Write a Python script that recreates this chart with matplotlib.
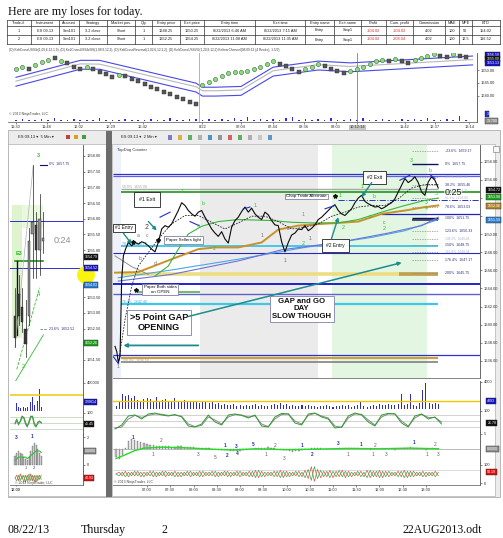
import numpy as np
import matplotlib
matplotlib.use("Agg")
import matplotlib.pyplot as plt
from matplotlib.patches import Rectangle, Circle
import matplotlib.transforms as mtrans

# ============================ DATA ============================
title = "Here are my loses for today."
table_cols = ["Trade-#", "Instrument", "Account", "Strategy", "Market pos.", "Qty",
              "Entry price", "Exit price", "Entry time", "Exit time", "Entry name",
              "Exit name", "Profit", "Cum. profit", "Commission", "MAE", "MFE", "ETD"]
trade1 = ["1", "ES 09-13", "Sim101", "3.2 close", "Short", "1", "1648.25", "1650.25",
          "8/22/2013 6:46 AM", "8/22/2013 7:15 AM", "Entry", "Stop1", "-104.02", "-104.02",
          "4.02", "100", "50", "154.02"]
trade2 = ["2", "ES 09-13", "Sim101", "3.2 close", "Short", "1", "1652.25", "1654.25",
          "8/22/2013 11:08 AM", "8/22/2013 11:35 AM", "Entry", "Stop1", "-104.02", "-208.04",
          "4.02", "100", "12.5", "116.52"]
indicator_text = ("(D) KeltCrossUSS/b(1,09,6,12,1,9), (D) KeltCrossUSS/b/SS(1,08,9,12,2), "
                  "(D) KeltCrossReversal(1,02,6,12,2,2), (D) KeltCrossUSSVU(1,20,8,12,2) "
                  "KeltnerChannel(08:09:13 (4 Renko), 1.5/2)")
footer = ["08/22/13", "Thursday", "2", "22AUG2013.odt"]

# --- top (Renko / Keltner) chart ---
dots_session1 = [1650.53, 1651.47, 1650.67, 1651.87, 1653.33, 1653.87, 1654.67, 1653.6, 1652.67, 1651.2,
                 1650.53, 1651.47, 1650.53, 1649.33, 1648.53, 1647.47, 1648.27, 1647.6, 1646.53, 1645.73,
                 1644.67, 1643.33, 1642.53, 1641.6, 1640.53, 1639.47, 1638.67, 1637.33, 1636.53]
dots_session2 = [1644.13, 1645.47, 1646.67, 1647.73, 1648.8, 1649.47, 1649.2, 1649.73, 1650.4, 1651.47,
                 1652.4, 1653.73, 1652.4, 1651.6, 1650.67, 1649.33, 1650.4, 1651.47, 1652.27, 1651.6,
                 1650.53, 1649.6, 1648.93, 1649.6, 1650.53, 1651.33, 1652.4, 1653.6, 1654.13, 1653.6,
                 1654.53, 1653.6, 1652.8, 1653.87, 1654.8, 1655.47, 1656.27, 1655.73, 1655.33, 1656.27,
                 1655.6, 1655.07]
dot_kind = ("ggsgggsgsssgssssgssssssssssss" +
            "gggggggggggg" "ssss" "ggg" "ssss" "gggggg" "s" "g" "ss" "gggg" "ss" "g" "ss")
channel_idx = [0, 10, 13, 28, 29, 31, 35, 40, 47, 52, 57, 71]
channel_up = [1647.2, 1653.9, 1653.9, 1644.9, 1643.3, 1643.3, 1643.6, 1651.2, 1653.6, 1652.9, 1653.6, 1655.6]
channel_mid = [1645.7, 1652.5, 1652.4, 1643.5, 1641.9, 1641.9, 1642.2, 1649.8, 1652.2, 1651.5, 1652.2, 1654.2]
channel_lo = [1643.7, 1650.4, 1650.4, 1641.4, 1639.8, 1639.8, 1640.1, 1647.7, 1650.1, 1649.4, 1650.1, 1652.1]
top_volume = [1, 2, 1, 1, 2, 1, 3, 1, 1, 2, 1, 1, 1, 3, 1, 1, 1, 2, 1, 1, 1, 2, 1, 1, 3, 1, 1, 2, 2, 1,
              2, 1, 2, 1, 3, 1, 5, 1, 2, 1, 2, 1, 3, 4, 1, 2, 1, 2, 1, 3, 1, 1, 2, 1, 3, 1, 1, 2, 1, 1,
              2, 1, 2, 1, 3, 1, 1, 2, 1, 6, 1]
top_tick_pos = [0, 4.8, 9.8, 14.7, 19.7, 29, 35, 40, 44.8, 49.8, 53.1, 60.5, 65.2, 70.5]
top_tick_lab = ["11:30", "11:48", "12:02", "12:29", "12:42", "8/22", "07:04", "07:44", "08:36",
                "09:03", "10:12:14", "11:42", "12:37", "13:14"]

# --- left 5-min chart ---
l_open = [1652.9, 1653.6, 1653.2, 1652.5, 1652.9, 1655.5, 1655.8, 1655.0, 1655.3]
l_high = [1653.8, 1654.2, 1653.8, 1653.4, 1655.7, 1657.7, 1656.2, 1656.8, 1656.2]
l_low = [1651.9, 1652.6, 1652.4, 1651.6, 1652.6, 1654.1, 1654.1, 1654.2, 1654.9]
l_close = [1652.2, 1652.9, 1652.7, 1652.0, 1655.3, 1655.9, 1655.0, 1656.0, 1655.4]
l_vol = [5, 8, 4, 3, 5, 4, 3, 4, 12, 9, 14, 6, 18, 10, 22, 4]
l_stoch_a = [50, 70, 40, 60, 85, 75, 45, 30, 60, 85, 80, 40, 30, 55, 60, 50]
l_stoch_b = [45, 60, 50, 55, 75, 80, 55, 35, 50, 78, 85, 50, 35, 45, 58, 52]
l_macd = [6, 8, 9, 8, 7, 5, 4, 3, 5, 9, 12, 14, 13, 10, 8, 6]
l_macd_sig = [3, 4, 5, 5, 5, 5, 5, 4, 5, 6, 7, 8, 9, 9, 9, 8]
l_osc_r = [0, 2, -2, 3, -1, 2, -3, 2, -2, 3, -2, 2, -3, 2, -1, 2]
l_osc_g = [0, -2, 2, -2, 2, -3, 2, -2, 3, -2, 2, -3, 2, -2, 2, -1]

# --- main 2-min chart (times in minutes after midnight) ---
open_t = [378.7, 381.0, 383.0, 385.2, 387.3, 389.5, 392.5]
open_p = [1637.6, 1637.0, 1635.8, 1636.5, 1645.0, 1647.6, 1648.4]
price_start, price_step = 395.9, 4.3
price = [1649.08, 1648.71, 1649.08, 1648.90, 1649.16, 1649.01, 1648.71, 1648.34, 1648.04, 1649.08,
         1650.57, 1650.94, 1650.76, 1651.13, 1651.87, 1652.61, 1653.47, 1653.17, 1652.61, 1652.24,
         1651.98, 1652.43, 1652.61, 1651.87, 1651.24, 1650.57, 1650.12, 1649.75, 1650.27, 1649.46,
         1649.01, 1650.76, 1651.50, 1651.87, 1652.50, 1652.99, 1652.43, 1652.87, 1652.24, 1651.87,
         1651.61, 1652.43, 1652.13, 1651.50, 1651.02, 1650.94, 1649.16, 1648.04, 1649.08, 1649.90,
         1650.12, 1650.57, 1650.50, 1650.94, 1650.38, 1650.64, 1651.02, 1651.61, 1651.87, 1652.24,
         1652.61, 1652.99, 1653.25, 1652.61, 1652.24, 1652.06, 1652.43, 1652.80, 1653.47, 1653.99,
         1654.29, 1653.62, 1653.36, 1653.17, 1652.99, 1653.06, 1652.80, 1652.99, 1653.25, 1653.47,
         1653.91, 1654.66, 1655.40, 1656.14, 1655.70, 1655.96, 1656.33, 1655.70, 1654.66, 1654.29,
         1655.77, 1656.33, 1655.96, 1655.10]
slow_t = [383.0, 391.6, 400.2, 408.8, 421.7, 434.6, 451.8, 469.0, 486.2, 503.4, 520.6, 537.8, 555.0,
          572.2, 589.4, 606.7, 623.9, 641.1, 658.3, 675.5, 692.7, 709.9, 727.1, 744.3, 761.5, 778.7, 795.9]
slow_p = [1635.71, 1640.54, 1644.25, 1646.48, 1647.97, 1649.46, 1651.13, 1652.06, 1652.06, 1651.31,
          1650.57, 1651.24, 1651.98, 1651.98, 1651.39, 1650.57, 1650.76, 1651.13, 1651.98, 1652.43,
          1652.99, 1653.17, 1653.17, 1653.91, 1655.10, 1655.48, 1655.48]
gold_t = [378.7, 408.8, 451.8, 486.2, 507.7, 537.8, 567.9, 589.4, 615.3, 645.4, 666.9, 692.7, 722.8, 752.9, 778.7, 795.9]
gold_p = [1645.74, 1645.81, 1647.23, 1648.34, 1648.53, 1648.53, 1649.08, 1650.50, 1650.94, 1651.13,
          1651.24, 1651.39, 1652.24, 1652.61, 1652.99, 1653.17]
green_t = [430.3, 447.5, 460.4, 473.3, 490.5, 512.0, 537.8, 580.9, 606.7, 632.5, 666.9, 692.7, 722.8, 752.9, 778.7, 795.9]
green_p = [1645.37, 1646.48, 1648.34, 1650.01, 1650.87, 1651.39, 1651.61, 1651.50, 1651.31, 1651.24,
           1651.24, 1651.61, 1652.43, 1653.17, 1653.73, 1653.99]
lblue_t = [383.0, 451.8, 537.8, 623.9, 709.9, 752.9, 795.9]
lblue_p = [1645.18, 1646.04, 1647.23, 1648.53, 1649.64, 1650.38, 1651.61]
purple_t = [383.0, 451.8, 537.8, 593.8, 666.9, 731.4, 774.4, 795.9]
purple_p = [1644.81, 1645.55, 1647.04, 1648.27, 1649.08, 1650.12, 1650.94, 1651.87]
grayma_t = [378.7, 400.2, 421.7]
grayma_p = [1647.6, 1646.41, 1645.55]

fib_pct = ["-23.6%", "0%", "23.6%", "38.2%", "50.0%", "61.8%", "78.6%", "100%",
           "123.6%", "138.2%", "150%", "161.8%", "176.4%", "200%"]
fib_val = [1659.17, 1657.75, 1656.33, 1655.46, 1654.75, 1654.04, 1653.03, 1651.75,
           1650.33, 1649.46, 1648.75, 1648.04, 1647.17, 1645.75]
fib_faded = [False, False, True, False, True, True, False, False, False, True, False, True, False, False]

# main sub-panels (4-minute bars from 06:20)
sub_start = 380
vol_main = [3, 8, 16, 14, 15, 12, 14, 10, 9, 11,
            12, 11, 8, 13, 9, 10, 11, 9, 8, 12,
            9, 8, 10, 7, 9, 7, 8, 6, 7, 9,
            6, 8, 5, 6, 4, 5, 4, 4, 5, 3,
            4, 3, 4, 3, 4, 5, 3, 4, 3, 3,
            4, 5, 4, 6, 4, 5, 3, 4, 3, 3,
            4, 3, 4, 3, 3, 2, 3, 3, 4, 3,
            2, 3, 3, 4, 3, 4, 2, 3, 4, 9,
            3, 2, 3, 4, 3, 5, 4, 4, 5, 4,
            4, 5, 16, 4, 5, 16, 4, 3, 6, 20,
            28, 6, 5, 6, 5]
macd_hist = [-25, -30, -20, 5, 25, 33, 30, 26, 22, 18,
             15, 13, 12, 11, 10, 10, 9, 9, 8, 8,
             9, 10, 8, 7, 6, 6, 5, 5, 4, 3,
             2, 1, 0, -1, -2, -3, -4, -5, -6, -7,
             -6, -4, -3, -1, 1, 2, 3, 4, 5, 6,
             5, 3, 1, -1, -2, -4, -6, -8, -7, -5,
             -3, -1, 1, 2, 3, 3, 2, 1, 0, -1,
             0, 1, 2, 3, 4, 5, 4, 3, 2, 1,
             0, -1, -2, -1, 0, 1, 2, 1, 0, -1,
             -2, -1, 1, 3, 5, 6, 5, 3, 1, -1,
             -2, 0, 2, 1, 0]
macd_sig_t = [380, 392, 404, 416, 440, 470, 500, 530, 560, 600, 640, 680, 720, 760, 796]
macd_sig_v = [-30, -18, -5, 3, 6, 4, 0, -3, 1, -2, 0, 2, 1, 3, 1]
osc_red = [0, 2, -2, 3, -3, 2, -2, 3, -3, 2, -2, 3, -3, 2, -2, 3, -3, 2, -2, 3,
           -3, 2, -2, 3, -3, 2, -2, 3, -3, 2, -2, 3, -3, 2, -2, 3, -3, 2, -2, 3,
           -3, 2, -2, 3, -3, 4, -4, 3, -3, 2, -2, 3, -3, 4, -4, 3, -3, 2, -2, 3,
           -3, 4, -5, 8, -8, 5, -4, 3, -3, 4, -4, 3, -3, 4, -4, 3, -3, 2, -2, 3,
           -3, 4, -4, 3, -3, 4, -4, 3, -3, 2, -2, 3, -3, 4, -4, 3, -3, 2, -2, 3,
           -3, 2, -2, 3, -2]
osc_green = [0, -2, 2, -3, 2, -2, 3, -2, 2, -3, 2, -2, 3, -3, 2, -2, 3, -2, 2, -3,
             2, -3, 2, -2, 3, -2, 2, -3, 3, -2, 2, -2, 3, -3, 2, -2, 3, -3, 2, -2,
             3, -2, 2, -3, 3, -4, 4, -3, 2, -2, 2, -3, 3, -4, 3, -3, 2, -2, 3, -3,
             2, -4, 5, -7, 8, -5, 4, -3, 3, -4, 3, -3, 4, -3, 3, -3, 2, -2, 3, -3,
             2, -4, 4, -3, 3, -4, 3, -3, 3, -2, 2, -3, 3, -4, 3, -3, 3, -2, 2, -3,
             2, -2, 2, -3, 2]
stoch_t0, stoch_step = 378.7, 8.6
stoch_a = [10, 30, 75, 80, 60, 85, 90, 80, 75, 82, 70, 25, 20, 35, 80, 45, 30, 80, 85, 78,
           65, 80, 25, 20, 70, 88, 85, 40, 30, 85, 90, 70, 60, 15, 20, 75, 90, 80, 45, 25,
           80, 88, 85, 40, 20, 75, 85, 60, 70, 35]
stoch_b = [15, 20, 60, 78, 68, 78, 85, 84, 78, 80, 74, 35, 22, 28, 70, 55, 35, 70, 82, 80,
           70, 76, 35, 22, 60, 82, 86, 50, 35, 78, 88, 75, 65, 25, 18, 65, 85, 84, 55, 30,
           70, 85, 86, 50, 25, 65, 84, 68, 68, 45]
main_ticks = [420, 450, 480, 510, 540, 570, 600, 630, 660, 690, 720, 750, 780]
main_tick_lab = ["07:00", "07:30", "08:00", "08:30", "09:00", "09:30", "10:00", "10:30",
                 "11:00", "11:30", "12:00", "12:30", "13:00"]

# ============================ FIGURE ============================
plt.rcParams['font.family'] = ['Liberation Sans', 'DejaVu Sans']
W, H = 503, 538
fig = plt.figure(figsize=(W / 100, H / 100), dpi=100)
fig.patch.set_facecolor('white')


def rect(x0, y0, x1, y1):
    return [x0 / W, 1 - y1 / H, (x1 - x0) / W, (y1 - y0) / H]


bg = fig.add_axes([0, 0, 1, 1])
bg.set_xlim(0, W); bg.set_ylim(H, 0); bg.axis('off')

SERIF = ['Liberation Serif', 'DejaVu Serif']
bg.text(8, 12.5, title, family=SERIF, fontsize=8.6, va='center', ha='left', color='#101010')

col_edges = [7, 31, 59, 79, 107, 135, 152, 180, 204, 255, 305, 334, 361, 386, 413, 445, 459, 472, 500]
row_edges = [19.5, 26, 35, 44]
for x in col_edges:
    bg.plot([x, x], [row_edges[0], row_edges[-1]], color='#303030', lw=0.5)
for y in row_edges:
    bg.plot([col_edges[0], col_edges[-1]], [y, y], color='#303030', lw=0.5)
for r, row in enumerate([table_cols, trade1, trade2]):
    yc = (row_edges[r] + row_edges[r + 1]) / 2
    for c, val in enumerate(row):
        xc = (col_edges[c] + col_edges[c + 1]) / 2
        colr = '#e02020' if (r > 0 and c in (12, 13)) else '#202020'
        bg.text(xc, yc, val, fontsize=2.8, ha='center', va='center', color=colr)
bg.text(9, 50.5, indicator_text, fontsize=2.3, ha='left', va='center', color='#404040')

# screenshot frame
bg.add_patch(Rectangle((8, 130), 492, 367, fc='#ececec', ec='#a0a0a0', lw=0.5))
bg.add_patch(Rectangle((8, 144), 98, 352, fc='white', ec='#a0a0a0', lw=0.4))
bg.add_patch(Rectangle((112, 144), 383, 352, fc='white', ec='#a0a0a0', lw=0.4))
bg.add_patch(Rectangle((106, 131), 6, 366, fc='#6c6c6c', ec='none'))
bg.add_patch(Rectangle((493, 146), 6, 6, fc='#f8f8f8', ec='#707070', lw=0.4))
bg.text(18, 137.5, "ES 09-13 \u25be  5 Min \u25be", fontsize=3, va='center', color='#202020')
bg.text(121, 137.5, "ES 09-13 \u25be  2 Min \u25be", fontsize=3, va='center', color='#202020')
for k, cc in enumerate(['#c04040', '#d8a020', '#40a040']):
    bg.add_patch(Rectangle((66 + 8 * k, 135), 4, 4, fc=cc, ec='none'))
for k, cc in enumerate(['#6060c0', '#d8a020', '#40a040', '#a0a0a0', '#2080c0', '#808080',
                        '#d04040', '#40a040', '#a0a0a0', '#c0c0c0', '#4080c0']):
    bg.add_patch(Rectangle((168 + 10 * k, 135), 4.5, 4.5, fc=cc, ec='none', alpha=0.8))


def style(ax):
    for s in ['top', 'left', 'bottom']:
        ax.spines[s].set_visible(False)
    ax.spines['right'].set_color('#505050'); ax.spines['right'].set_linewidth(0.6)
    ax.yaxis.tick_right()
    ax.tick_params(axis='y', labelsize=2.9, length=1.5, width=0.4, pad=1, colors='#303030')
    ax.tick_params(axis='x', bottom=False, labelbottom=False)
    ax.set_facecolor('white')


def sep(ax):
    ax.spines['bottom'].set_visible(True)
    ax.spines['bottom'].set_color('#707070'); ax.spines['bottom'].set_linewidth(0.6)


def tag(ax, y, text, fc, tc='white', host=None):
    tr = mtrans.blended_transform_factory(ax.transAxes, ax.transData)
    (host or ax).text(1.02, y, text, transform=tr, fontsize=2.6, color=tc, va='center', ha='left',
                      bbox=dict(boxstyle='square,pad=0.25', fc=fc, ec='#202020', lw=0.3),
                      clip_on=False, zorder=10)


# ---------------- top chart ----------------
axT = fig.add_axes(rect(8, 53, 477, 109))
axT.set_xlim(-1.24, 71.7); axT.set_ylim(1634.7, 1656.8)
style(axT); sep(axT)
axT.set_yticks([1640, 1645, 1650]); axT.set_yticklabels(['1640.00', '1645.00', '1650.00'])
axT.plot(channel_idx, channel_up, color='#4848e8', lw=0.8)
axT.plot(channel_idx, channel_mid, color='#b8b8b8', lw=0.8)
axT.plot(channel_idx, channel_lo, color='#4848e8', lw=0.8)
dots = dots_session1 + dots_session2
for i, (v, k) in enumerate(zip(dots, dot_kind)):
    if k == 'g':
        axT.plot(i, v, marker='o', ms=3.0, mfc='#8ede7e', mec='#3a6a3a', mew=0.4, zorder=5)
    else:
        axT.plot(i, v, marker='s', ms=2.4, mfc='#555555', mec='#333333', mew=0.3, zorder=5)
axT.axvline(28.4, color='#a8a8a8', lw=0.6)
axT.axvline(53.1, color='#808080', lw=0.6)
tag(axT, 1655.9, '1656.58', '#1414c0')
tag(axT, 1654.3, '1655.00', '#101010')
tag(axT, 1652.7, '1653.13', '#1414c0')

axTv = fig.add_axes(rect(8, 109, 477, 122))
axTv.set_xlim(-1.24, 71.7); axTv.set_ylim(-1.5, 14)
style(axTv); sep(axTv)
axTv.set_yticks([])
axTv.bar(range(len(top_volume)), top_volume, width=0.25, color='#2b2be0')
axTv.axvline(28.4, color='#a8a8a8', lw=0.6)
axTv.axvline(53.1, color='#808080', lw=0.6)
axTv.text(0.003, 0.55, "\u00a9 2013 NinjaTrader, LLC", transform=axTv.transAxes, fontsize=2.5, color='#404040')
axTv.set_xticks(top_tick_pos)
axTv.set_xticklabels(top_tick_lab)
axTv.tick_params(axis='x', bottom=True, labelbottom=True, labelsize=2.9, length=1.5, width=0.4,
                 pad=1, colors='#303030')
for lab in axTv.get_xticklabels():
    if lab.get_text() == "10:12:14":
        lab.set_bbox(dict(boxstyle='square,pad=0.15', fc='#c8c8c8', ec='none'))
tag(axTv, 8, '3', '#2030d0')
tag(axTv, 0, '13,700', '#909090')

# ---------------- left 5-min chart ----------------
LX = (-1.43, 19.4)
axL = fig.add_axes(rect(10, 145, 83, 381))
axL.set_xlim(*LX); axL.set_ylim(1650.83, 1658.35)
style(axL); sep(axL)
yt = np.arange(1651.5, 1658.01, 0.5)
axL.set_yticks(yt)
axL.set_yticklabels(['' if v in (1654.0, 1654.5, 1652.0) else '%.2f' % v for v in yt])
axL.add_patch(Rectangle((-0.94, 1652.2), 2.84, 4.24, fc='#dff3cf', ec='none', zorder=0))
axL.add_patch(Rectangle((1.9, 1655.7), 6.1, 0.74, fc='#eaf8e0', ec='none', zorder=0))
axL.axhline(1655.93, color='#3030d0', lw=0.7)
axL.axhline(1654.42, color='#3030d0', lw=0.7)
axL.plot([0, 8], [1654.66, 1654.66], color='#209020', lw=1.2)
axL.plot([0.6, 0.6], [1652.3, 1654.66], color='#101010', lw=1.0)
axL.text(0.1, 1654.8, "E3", color='#20c020', fontsize=4, fontweight='bold', va='bottom')
axL.plot([0, 5.2], [1651.9, 1657.7], color='#b0b0b0', lw=0.5)
axL.plot([0, 8.1], [1650.8, 1652.3], color='#30c030', lw=0.6)
axL.plot([0.5, 7.0], [1651.2, 1653.8], color='#30c030', lw=0.6, ls='--')
for i in range(len(l_open)):
    axL.plot([i, i], [l_low[i], l_high[i]], color='#202020', lw=0.5, zorder=3)
    lo_, hi_ = min(l_open[i], l_close[i]), max(l_open[i], l_close[i])
    fcol = '#8c8c8c' if l_close[i] >= l_open[i] else '#3a3a3a'
    axL.add_patch(Rectangle((i - 0.35, lo_), 0.7, hi_ - lo_, fc=fcol, ec='#202020', lw=0.3, zorder=4))
axL.plot([7.2, 9.0], [1657.72, 1657.72], color='#101060', lw=0.8)
axL.text(9.6, 1657.75, "0%  1657.75", fontsize=2.6, color='#303080', va='center')
axL.plot([7.0, 9.0], [1652.5, 1652.5], color='#606060', lw=0.5, ls='--')
axL.text(9.6, 1652.5, "23.6%  1652.52", fontsize=2.6, color='#303080', va='center')
axL.text(6.6, 1658.0, "3", color='#30c030', fontsize=4, ha='center', va='center', fontweight='bold')
axL.text(2.4, 1651.3, "2", color='#30c030', fontsize=4, ha='center', va='center')
axL.text(6.7, 1653.6, "4", color='#30c030', fontsize=4, ha='center', va='center')
axL.text(13.4, 1655.3, "0:24", color='#909090', fontsize=6.5, ha='center', va='center')

axL1 = fig.add_axes(rect(10, 381, 83, 411))
axL1.set_xlim(*LX); axL1.set_ylim(0, 30); style(axL1); sep(axL1)
axL1.set_yticks([28]); axL1.set_yticklabels(['400000'])
axL1.bar(np.arange(len(l_vol)) * 0.5, l_vol, width=0.22, color='#3030c8')
axL1.axhline(16, color='#f0d020', lw=1.2)
tag(axL1, 9, '120814', '#1414c0')

axL2 = fig.add_axes(rect(10, 411, 83, 434))
axL2.set_xlim(*LX); axL2.set_ylim(-5, 110); style(axL2); sep(axL2)
axL2.set_yticks([100]); axL2.set_yticklabels(['100'])
for lv in (20, 50, 80):
    axL2.axhline(lv, color='#c0d8c0', lw=0.6)
xs = np.arange(len(l_stoch_a)) * 0.5
axL2.plot(xs, l_stoch_b, color='#808080', lw=0.7)
axL2.plot(xs, l_stoch_a, color='#30a030', lw=0.7)
tag(axL2, 45, '45.45', '#101010')

axL3 = fig.add_axes(rect(10, 434, 83, 471))
axL3.set_xlim(*LX); axL3.set_ylim(-4, 20); style(axL3); sep(axL3)
axL3.set_yticks([0, 18]); axL3.set_yticklabels(['0', '2'])
axL3.bar(xs, l_macd, width=0.3, color='#b8b8b8', ec='#505050', lw=0.2)
axL3.plot(xs, l_macd_sig, color='#30c030', lw=0.8)
axL3.text(0.4, 17, "3", color='#2030c0', fontsize=3.5, ha='center', fontweight='bold')
axL3.text(4.8, 17.5, "1", color='#2030c0', fontsize=3.5, ha='center', fontweight='bold')
axL3.text(3.0, -3, "1", color='#505050', fontsize=3, ha='center')
axL3.text(5.3, -3, "2", color='#2030c0', fontsize=3, ha='center')
tag(axL3, 9, '0.0000', '#909090')

axL4 = fig.add_axes(rect(10, 471, 83, 485))
axL4.set_xlim(*LX); axL4.set_ylim(-5, 5); style(axL4); sep(axL4)
axL4.set_yticks([])
axL4.plot(xs, l_osc_r, color='#e05050', lw=0.5)
axL4.plot(xs, l_osc_g, color='#40b040', lw=0.5)
axL4.text(0.0, -4.6, "\u00a9 2013 NinjaTrader, LLC", fontsize=2.4, color='#404040')
tag(axL4, 0, '40.93', '#e01010')
axL4.set_xticks([0.3]); axL4.set_xticklabels(['12:00'])
axL4.tick_params(axis='x', bottom=True, labelbottom=True, labelsize=2.9, length=1, width=0.4, pad=1)

# ---------------- main 2-min chart ----------------
TX = (376.1, 849.7)
axM = fig.add_axes(rect(113, 145, 480, 378))
axM.set_xlim(*TX); axM.set_ylim(1634.1, 1659.85)
style(axM); sep(axM)
yt = np.arange(1636, 1658.1, 2)
axM.set_yticks(yt)
axM.set_yticklabels(['' if v in (1652.0, 1654.0) else '%.2f' % v for v in yt])

axM.axvspan(374, 387, color='#eef1fa', lw=0, zorder=0)
axM.axvspan(488.4, 641.1, color='#ebebeb', lw=0, zorder=0)
axM.axvspan(658.3, 780.8, color='#e2f6e2', lw=0, zorder=0)


def hl(p, t0, t1, color, lw, ls='-'):
    axM.plot([t0, t1], [p, p], color=color, lw=lw, ls=ls, solid_capstyle='butt', zorder=1)


hl(1656.70, TX[0], TX[1], '#3030d0', 0.9)
hl(1656.44, TX[0], TX[1], '#6060e0', 0.9)
hl(1654.95, 387, 796, '#a8a8a8', 1.0)
hl(1654.66, 387, TX[1], '#2e9e2e', 1.3)
hl(1653.80, 667, TX[1], '#3030d0', 0.7, '-.')
hl(1652.17, 722, TX[1], '#2020c0', 0.9)
hl(1651.61, 762, 796, '#404060', 1.3)
hl(1648.71, 387, 796, '#3cc4e6', 1.3)
hl(1647.89, TX[0], TX[1], '#2828b8', 0.8)
hl(1645.63, 387, 796, '#eedd80', 2.6)
hl(1645.63, 745, 796, '#c0a050', 2.6)
hl(1644.44, TX[0], TX[1], '#2020d0', 1.4)
hl(1643.40, TX[0], TX[1], '#6060d0', 1.0)
hl(1643.62, 408.8, 488.4, '#50b050', 1.2)
hl(1642.28, 387, 796, '#3cc8e8', 1.6)
hl(1636.63, TX[0], TX[1], '#3030d0', 0.9)
hl(1636.34, 387, 796, '#c8a040', 1.6)
hl(1635.89, 387, 796, '#808080', 1.2)

for pct, val, fad in zip(fib_pct, fib_val, fib_faded):
    col = '#b0b0c8' if fad else '#303080'
    axM.plot([761.5, 795.9], [val, val], color='#909090', lw=0.5, ls=(0, (2, 1.5)), zorder=1)
    axM.text(804, val, f"{pct}  {val:.2f}", fontsize=2.6 if not fad else 2.3, color=col,
             va='center', ha='left', zorder=2)
hl(1657.75, 761.5, 795.9, '#101060', 1.0)
hl(1651.75, 761.5, 795.9, '#101060', 1.0)
axM.text(388, 1655.2, "50.0%  1655.00", fontsize=2.5, color='#a0a0a0', va='center')
axM.text(388, 1648.95, "78.6%  1648.70", fontsize=2.5, color='#40a0d0', va='center')
axM.text(388, 1642.5, "76.4%  1642.40", fontsize=2.5, color='#40a0d0', va='center')
axM.text(388, 1636.0, "100.0%  1636.50", fontsize=2.5, color='#a0a0a0', va='center')

axM.plot(lblue_t, lblue_p, color='#4aa6e6', lw=0.8, zorder=2)
axM.plot(purple_t, purple_p, color='#7070d8', lw=0.8, zorder=2)
axM.plot(grayma_t, grayma_p, color='#909090', lw=0.7, zorder=2)
axM.plot(gold_t, gold_p, color='#c8922a', lw=1.4, zorder=2)
axM.plot(green_t, green_p, color='#3cb43c', lw=0.8, zorder=2)
axM.plot(slow_t, slow_p, color='#202020', lw=0.6, ls=(0, (2, 1.5)), zorder=3)
pt = np.concatenate([open_t, price_start + price_step * np.arange(len(price))])
pp = np.concatenate([open_p, price])
axM.plot(pt, pp, color='#0a0a0a', lw=0.8, zorder=4)

green_lbl = [(464.7, 1654.73, "1"), (492.7, 1653.36, "b"), (486.2, 1650.94, "a"), (506.9, 1648.41, "2"),
             (559.3, 1653.17, "1"), (621.7, 1652.13, "1"), (621.7, 1649.01, "2"), (669.0, 1654.29, "1"),
             (673.3, 1650.76, "2"), (697.0, 1655.21, "1"), (713.3, 1654.21, "b"), (707.7, 1651.98, "a"),
             (726.2, 1650.57, "2"), (760.6, 1658.19, "3"), (785.1, 1657.07, "b"), (780.0, 1653.54, "3"),
             (780.0, 1652.80, "4"), (793.8, 1654.47, "5")]
for t, p, s in green_lbl:
    axM.text(t, p, s, color='#28c828', fontsize=3.8, ha='center', va='center', zorder=6)
gray_lbl = [(408.8, 1649.90, "a"), (419.6, 1649.90, "c"), (411.0, 1647.30, "b"), (430.3, 1646.78, "d"),
            (568.0, 1649.83, "1"), (630.3, 1649.53, "1"), (602.4, 1650.64, "2"), (726.2, 1651.24, "c"),
            (598.1, 1647.04, "1"), (383.0, 1635.33, "1")]
for t, p, s in gray_lbl:
    axM.text(t, p, s, color='#707070', fontsize=3.6, ha='center', va='center', zorder=6)
axM.text(419.6, 1650.76, "2", color='#404040', fontsize=5, ha='center', va='center', zorder=6)

for (t0, p0, t1, p1) in [(436.8, 1651.87, 449.7, 1652.43), (475.5, 1651.39, 487.1, 1650.94),
                         (544.3, 1652.80, 552.9, 1652.99), (649.7, 1652.80, 662.6, 1653.17),
                         (746.4, 1655.96, 759.3, 1656.52), (785.1, 1656.59, 791.6, 1656.14),
                         (376.6, 1636.45, 383.0, 1635.71)]:
    axM.plot([t0, t1], [p0, p1], color='#2030c8', lw=0.8, zorder=5)
for t, p in [(434.6, 1649.34), (405.4, 1643.81), (662.6, 1654.21), (402.0, 1649.1)]:
    axM.plot(t, p, marker='*', ms=3, color='#101010', zorder=7)


def box(t, p, s, fs=3.6, bold=False, ec='#202020', lw=0.6, pad=0.4):
    axM.text(t, p, s, fontsize=fs, ha='center', va='center', color='#101010',
             fontweight='bold' if bold else 'normal', linespacing=1.1, zorder=8,
             bbox=dict(boxstyle=f'square,pad={pad}', fc='white', ec=ec, lw=lw))


box(419.6, 1653.84, "#1 Exit", fs=3.8, pad=0.9)
box(390.3, 1650.68, "#1 Entry", fs=3.4)
box(466.9, 1649.38, "Paper Sellers light", fs=3.2, ec='#8080a0')
box(436.8, 1643.88, "Paper Both sides\non OPEN", fs=3.2, ec='#8080a0')
box(435.5, 1640.24, ">5 Point GAP\nOPENING", fs=6.6, bold=True, ec='#8080a8', pad=0.3)
box(619.6, 1641.73, "GAP and GO\nDAY\nSLOW THOUGH", fs=5.6, bold=True, ec='#8080a8', pad=0.3)
box(626.0, 1654.17, "Chop Trade Alternate", fs=3.2, ec='#8080a0', pad=0.2)
box(713.3, 1656.26, "#2 Exit", fs=3.6, pad=0.8)
box(663.4, 1648.79, "#2 Entry", fs=3.6, pad=0.8)

teal = '#1e8c8c'
for (t0, p0, t1, p1, lw) in [(473.3, 1640.9, 748.6, 1646.85, 1.1), (486.2, 1637.7, 389.5, 1637.7, 1.3),
                             (658.0, 1649.5, 666.9, 1651.87, 1.0), (709.9, 1655.7, 697.0, 1654.1, 1.0),
                             (389.5, 1650.1, 400.2, 1648.9, 1.0), (421.7, 1651.4, 432.5, 1650.4, 1.0)]:
    axM.annotate("", xy=(t1, p1), xytext=(t0, p0), zorder=9,
                 arrowprops=dict(arrowstyle='-|>', color=teal, lw=lw, mutation_scale=5,
                                 shrinkA=0, shrinkB=0))
axM.text(0.012, 0.985, "TopDog Counter", transform=axM.transAxes, fontsize=3, va='top', color='#303030')
axM.text(815, 1654.6, "0:25", fontsize=6.5, color='#202020', ha='center', va='center', zorder=9,
         bbox=dict(boxstyle='square,pad=0.05', fc='white', ec='none', alpha=0.6))
tag(axM, 1654.85, '1654.72', '#101010')
tag(axM, 1654.10, '1653.98', '#20a020')
tag(axM, 1653.10, '1652.96', '#b08830')
tag(axM, 1651.55, '1651.59', '#3080d0')

# main sub-panels
sub_t = sub_start + 4 * np.arange(len(vol_main))
axV = fig.add_axes(rect(113, 381, 480, 409))
axV.set_xlim(*TX); axV.set_ylim(0, 30); style(axV); sep(axV)
axV.set_yticks([29]); axV.set_yticklabels(['4000'])
axV.bar(sub_t, vol_main, width=1.3, color='#2f2fb0')
axV.axhline(8.3, color='#f0c800', lw=1.0)
tag(axV, 8.3, '4893', '#1414c0')

axS = fig.add_axes(rect(113, 409, 480, 432))
axS.set_xlim(*TX); axS.set_ylim(-5, 110); style(axS); sep(axS)
axS.set_yticks([100]); axS.set_yticklabels(['100'])
for lv in (20, 50, 80):
    axS.axhline(lv, color='#c0c0c0', lw=0.5)
st = stoch_t0 + stoch_step * np.arange(len(stoch_a))
axS.plot(st, stoch_b, color='#8a8a8a', lw=0.7)
axS.plot(st, stoch_a, color='#2e9a2e', lw=0.7)
tag(axS, 40, '26.78', '#101010')

axMa = fig.add_axes(rect(113, 432, 480, 463))
axMa.set_xlim(*TX); axMa.set_ylim(-44, 54); style(axMa); sep(axMa)
axMa.set_yticks([48]); axMa.set_yticklabels(['5'])
axMa.axhline(0, color='#a0a0a0', lw=0.5)
axMa.bar(sub_t, macd_hist, width=1.6, color='#c0c0c0', ec='#404040', lw=0.2)
axMa.plot(macd_sig_t, macd_sig_v, color='#22dd22', lw=1.0)
macd_lbl = [(402.4, 37, "1", 'b'), (438.1, 25.6, "2", 'g'), (428.2, -16.5, "1", 'g'), (486.2, -16.5, "3", 'g'),
            (507.7, -26, "5", 'g'), (520.6, 9.8, "1", 'b'), (522.8, -21.8, "2", 'b'), (535.7, 7.6, "3", 'b'),
            (537.0, -15.5, "4", 'b'), (557.2, 16, "5", 'b'), (585.2, 12, "2", 'g'), (573.5, -18.7, "1", 'g'),
            (597.2, -29, "3", 'g'), (619.6, 12, "1", 'b'), (633.3, -16.5, "2", 'b'), (666.9, 18, "3", 'b'),
            (679.8, -16.5, "1", 'g'), (696.1, 16, "1", 'b'), (714.2, 12, "2", 'g'), (712.0, -16.5, "1", 'g'),
            (728.4, -18.7, "3", 'g'), (764.9, 20, "1", 'b'), (791.6, 15, "2", 'g'), (780.9, -16.5, "1", 'g'),
            (795.9, -18.7, "3", 'g')]
for t, v, s, c in macd_lbl:
    axMa.text(t, v, s, fontsize=3.4, ha='center', va='center',
              color='#2030c0' if c == 'b' else '#606060', fontweight='bold' if c == 'b' else 'normal')
tag(axMa, 0, '0.0000', '#909090')

axO = fig.add_axes(rect(113, 463, 480, 485))
axO.set_xlim(*TX); axO.set_ylim(-12, 12); style(axO); sep(axO)
axO.set_yticks([10, -10]); axO.set_yticklabels(['100', '0'])
axO.axhline(4, color='#c0c0c0', lw=0.4)
axO.plot(sub_t, osc_red, color='#e05050', lw=0.5)
axO.plot(sub_t, osc_green, color='#3aaa3a', lw=0.5)
axO.text(0.003, 0.08, "\u00a9 2013 NinjaTrader, LLC", transform=axO.transAxes, fontsize=2.5, color='#404040')
tag(axO, 2, '58.19', '#e01010')
axO.set_xticks(main_ticks); axO.set_xticklabels(main_tick_lab)
axO.tick_params(axis='x', bottom=True, labelbottom=True, labelsize=2.9, length=1.5, width=0.4,
                pad=1, colors='#303030')

# ---------------- overlay (highlight + left tags) ----------------
ov = fig.add_axes([0, 0, 1, 1], zorder=5)
ov.set_xlim(0, W); ov.set_ylim(H, 0); ov.axis('off'); ov.patch.set_alpha(0)
ov.add_patch(Circle((86, 275), 9, fc='#f8f410', ec='none'))
for y, s, fc in [(1654.79, '1654.79', '#101010'), (1654.42, '1654.52', '#1414c0'),
                 (1653.88, '1654.03', '#2a7ad0'), (1652.05, '1652.26', '#20a020')]:
    tag(axL, y, s, fc, host=ov)

for x, s in zip([8, 81, 162, 403], footer):
    bg.text(x, 530, s, family=SERIF, fontsize=8.6, va='center', ha='left', color='#101010')

fig.savefig("out.png", dpi=100)
